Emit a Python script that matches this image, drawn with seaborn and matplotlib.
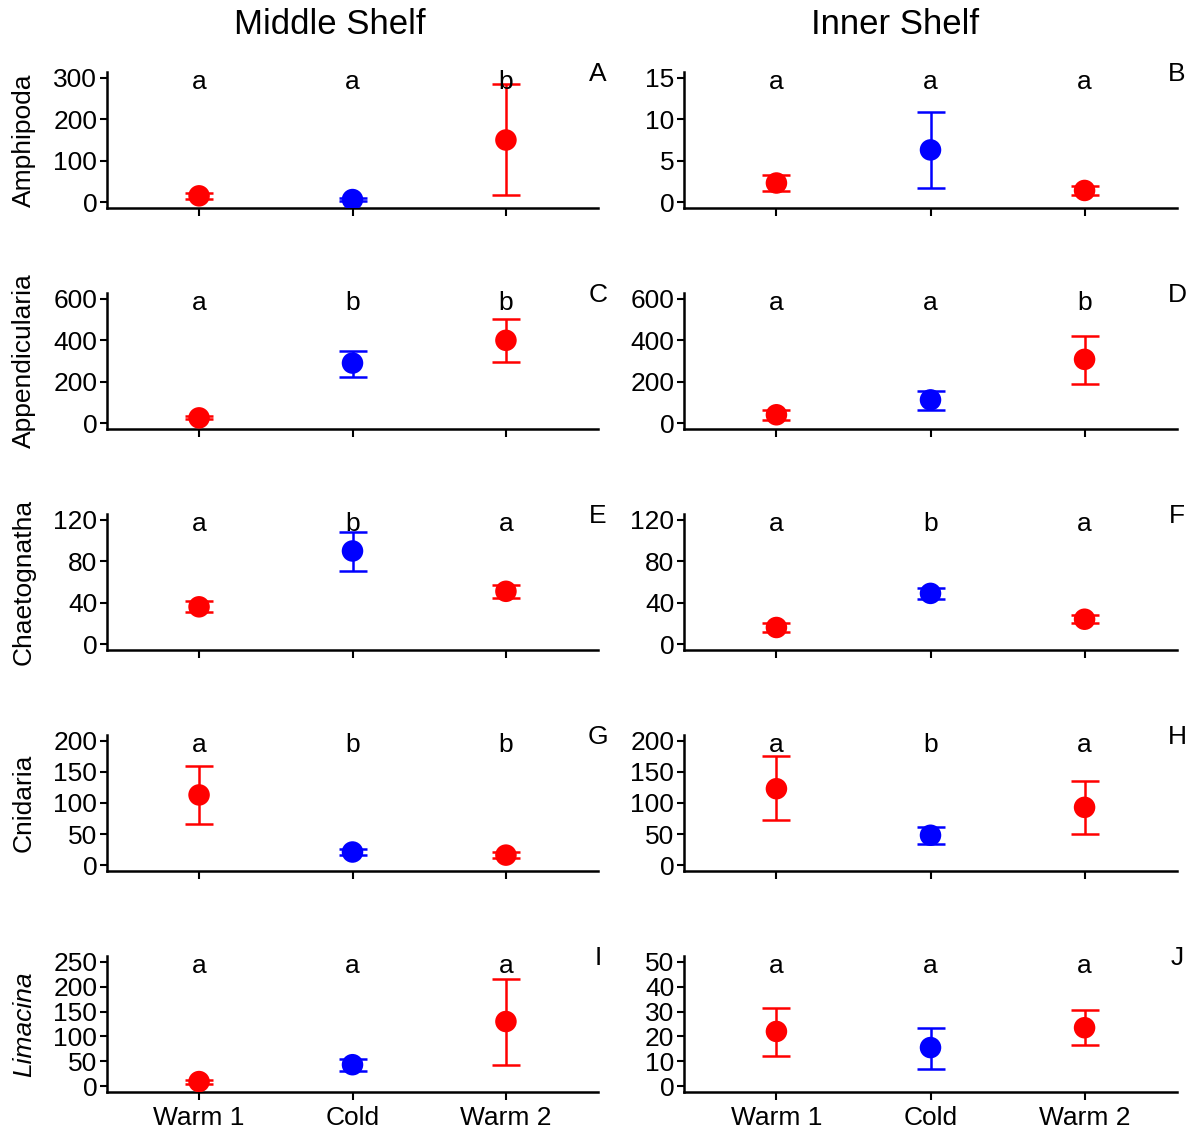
import numpy as np
import pandas as pd
import seaborn as sns
import matplotlib.pyplot as plt

# Periods and taxa
periods = ["Warm 1", "Cold", "Warm 2"]
period_colors = ["#FF0000", "#0000FF", "#FF0000"]
taxa = ["Amphipoda", "Appendicularia", "Chaetognatha", "Cnidaria", "Limacina"]
shelves = ["Middle Shelf", "Inner Shelf"]

# Middle shelf: mean, lower and upper error limits (rows follow taxa)
mid_mean = [[15, 6, 150], [25, 290, 400], [36, 90, 51], [113, 21, 16], [9, 43, 130]]
mid_low = [[8, 3, 18], [18, 225, 295], [31, 71, 45], [66, 16, 11], [5, 31, 43]]
mid_high = [[22, 9, 285], [32, 350, 505], [42, 108, 57], [160, 26, 21], [13, 55, 215]]
mid_letters = [["a", "a", "b"], ["a", "b", "b"], ["a", "b", "a"], ["a", "b", "b"], ["a", "a", "a"]]
mid_ymax = [300, 600, 120, 200, 250]
mid_ystep = [100, 200, 40, 50, 50]

# Inner shelf
inner_mean = [[2.3, 6.3, 1.4], [40, 112, 308], [16, 49, 24], [123, 48, 93], [22, 15.5, 23.5]]
inner_low = [[1.3, 1.7, 0.8], [15, 65, 190], [12, 44, 20], [72, 34, 50], [12, 7, 16.5]]
inner_high = [[3.3, 10.9, 1.9], [62, 155, 420], [20, 54, 28], [175, 62, 136], [31.5, 23.5, 30.5]]
inner_letters = [["a", "a", "a"], ["a", "a", "b"], ["a", "b", "a"], ["a", "b", "a"], ["a", "a", "a"]]
inner_ymax = [15, 600, 120, 200, 50]
inner_ystep = [5, 200, 40, 50, 10]

panel_labels = [["A", "B"], ["C", "D"], ["E", "F"], ["G", "H"], ["I", "J"]]

sns.set_style("white")
plt.rcParams['font.family'] = ['Liberation Sans', 'DejaVu Sans']
plt.rcParams['text.color'] = 'black'
plt.rcParams['xtick.color'] = 'black'
plt.rcParams['ytick.color'] = 'black'
plt.rcParams['xtick.labelcolor'] = 'black'
plt.rcParams['ytick.labelcolor'] = 'black'

W, H = 1194, 1130
FS = 19
fig = plt.figure(figsize=(W / 100, H / 100), dpi=100)

col_left = [107, 684]
col_width = [491, 493]

for r in range(5):
    top_px = 72 + 221 * r
    for c in range(2):
        ax = fig.add_axes([col_left[c] / W, 1 - (top_px + 136) / H, col_width[c] / W, 136 / H])
        if c == 0:
            mean, low, high = mid_mean[r], mid_low[r], mid_high[r]
            letters, ymax, ystep = mid_letters[r], mid_ymax[r], mid_ystep[r]
        else:
            mean, low, high = inner_mean[r], inner_low[r], inner_high[r]
            letters, ymax, ystep = inner_letters[r], inner_ymax[r], inner_ystep[r]

        df = pd.DataFrame({"Period": periods, "mean": mean, "low": low, "high": high})
        x = np.arange(len(periods))
        for i in range(len(periods)):
            ax.errorbar(x[i], df["mean"][i],
                        yerr=[[df["mean"][i] - df["low"][i]], [df["high"][i] - df["mean"][i]]],
                        fmt="none", ecolor=period_colors[i], elinewidth=1.8,
                        capsize=10, capthick=1.8, zorder=2)
        sns.scatterplot(data=df, x="Period", y="mean", hue="Period",
                        palette=dict(zip(periods, period_colors)), s=240,
                        edgecolor="none", legend=False, ax=ax, zorder=3)

        for i in range(len(periods)):
            ax.text(x[i], ymax * 0.97, letters[i], ha="center", va="center", fontsize=FS)
        ax.text(1.0, 0.985, panel_labels[r][c], transform=ax.transAxes,
                ha="center", va="center", fontsize=FS)

        ax.set_xlim(-0.6, 2.6)
        ax.set_ylim(-0.048 * ymax, 1.048 * ymax)
        ax.set_yticks(np.arange(0, ymax + ystep / 2, ystep))
        ax.set_xticks(x)
        if r == 4:
            ax.set_xticklabels(periods, fontsize=FS)
        else:
            ax.set_xticklabels([])
        ax.tick_params(axis="y", labelsize=FS, length=5, width=1.5, pad=2, left=True)
        ax.tick_params(axis="x", length=6, width=1.5, pad=4, bottom=True)
        for side in ["top", "right"]:
            ax.spines[side].set_visible(False)
        for side in ["left", "bottom"]:
            ax.spines[side].set_color("black")
            ax.spines[side].set_linewidth(1.8)
        ax.set_xlabel("")
        ax.set_ylabel("")

    fig.text(24 / W, 1 - (top_px + 68) / H, taxa[r], rotation=90, ha="center",
             va="center", fontsize=FS, style="italic" if taxa[r] == "Limacina" else "normal")

fig.text(330 / W, 1 - 24 / H, shelves[0], ha="center", va="center", fontsize=25)
fig.text(895 / W, 1 - 24 / H, shelves[1], ha="center", va="center", fontsize=25)

fig.savefig("out.png", dpi=100)
